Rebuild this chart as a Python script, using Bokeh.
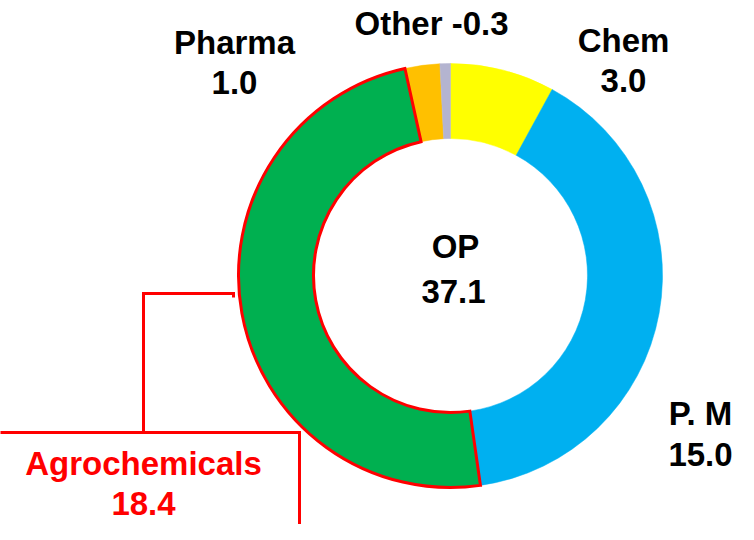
import math
from bokeh.plotting import figure
from bokeh.models import Range1d, ColumnDataSource
from bokeh.core.properties import value
from bokeh.embed import file_html
from bokeh.resources import INLINE

# ---- data ----
categories = ["Chem", "P. M", "Agrochemicals", "Pharma", "Other"]
values = [3.0, 15.0, 18.4, 1.0, -0.3]
colors = ["#FFFF00", "#00B0F0", "#00B050", "#FFC000", "#B4B4D0"]
total_name = "OP"
highlight = "Agrochemicals"

# ---- layout (screen pixels of the 754x540 window) ----
W, H = 738, 524
CX, CY = 450, 275
R_IN, R_OUT = 137, 212
FONT = value("Liberation Sans")
TXT_DY = 12  # baseline correction for svg text


def sx(x):
    return x - CX


def sy(y):
    return CY - y


p = figure(width=W, height=H, output_backend="svg", toolbar_location=None,
           x_range=Range1d(-CX, W - CX), y_range=Range1d(CY - H, CY),
           x_axis_location=None, y_axis_location=None, min_border=0,
           outline_line_color=None, background_fill_color="white")
p.grid.grid_line_color = None

mags = [abs(v) for v in values]
tot = sum(mags)
starts, ends = [], []
c = 0.0
for m in mags:
    starts.append(math.pi / 2 - 2 * math.pi * c / tot)
    c += m
    ends.append(math.pi / 2 - 2 * math.pi * c / tot)

hi = categories.index(highlight)
others = [i for i in range(len(categories)) if i != hi]
src_o = ColumnDataSource(dict(start=[starts[i] for i in others], end=[ends[i] for i in others],
                              color=[colors[i] for i in others]))
src_h = ColumnDataSource(dict(start=[starts[hi]], end=[ends[hi]], color=[colors[hi]]))

p.annular_wedge(x=0, y=0, inner_radius=R_IN, outer_radius=R_OUT,
                start_angle="start", end_angle="end", direction="clock",
                fill_color="color", line_color="color", line_width=0.5, source=src_o)
p.annular_wedge(x=0, y=0, inner_radius=R_IN, outer_radius=R_OUT,
                start_angle="start", end_angle="end", direction="clock",
                fill_color="color", line_color="#FF0000", line_width=3,
                line_join="miter", source=src_h)

# callout for highlighted segment
p.line(x=[sx(143), sx(143), sx(233), sx(233)], y=[sy(432), sy(293), sy(293), sy(297)],
       line_color="#FF0000", line_width=3, line_join="miter")
p.quad(left=sx(-20), right=sx(299), top=sy(432), bottom=sy(560),
       fill_color="white", line_color="#FF0000", line_width=3, line_join="miter")


def label(txt, x, y, color="black"):
    p.text(x=[sx(x)], y=[sy(y - TXT_DY)], text=[txt], text_font=FONT, text_font_style="bold",
           text_font_size="33px", text_color=color, text_align="center",
           text_baseline="alphabetic")


def fmt(v):
    return f"{v:.1f}"


d = dict(zip(categories, values))
label("Pharma", 234, 54)
label(fmt(d["Pharma"]), 234, 94)
label(f"Other {fmt(d['Other'])}", 431, 35)
label("Chem", 623, 52)
label(fmt(d["Chem"]), 623, 92)
label("P. M", 700, 425)
label(fmt(d["P. M"]), 700, 466)
label(total_name, 455, 258)
label(fmt(sum(values)), 453, 303)
label(highlight, 143, 475, "#FF0000")
label(fmt(d[highlight]), 143, 515, "#FF0000")

open("out.html", "w").write(file_html(p, INLINE))
